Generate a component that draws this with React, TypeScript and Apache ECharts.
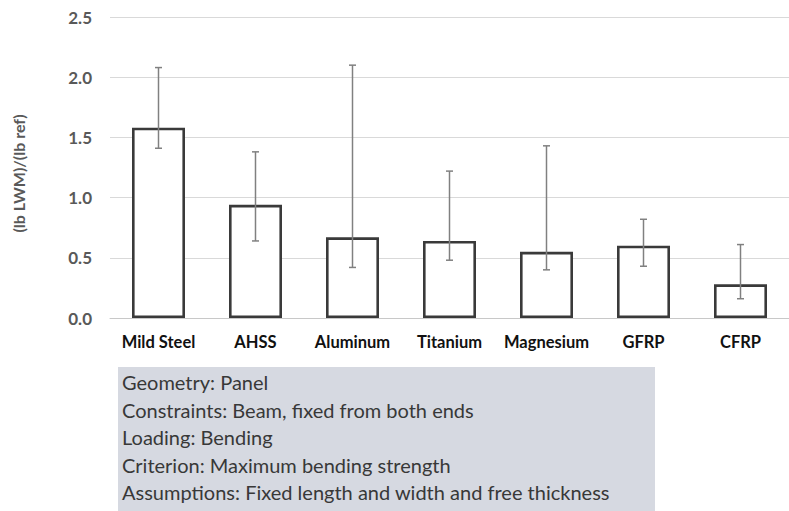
import React, { useEffect, useRef } from "react";
import * as echarts from "echarts";

const categories = ["Mild Steel", "AHSS", "Aluminum", "Titanium", "Magnesium", "GFRP", "CFRP"];
const meanValues = [1.58, 0.94, 0.67, 0.64, 0.55, 0.6, 0.28];
const upperValues = [2.08, 1.38, 2.1, 1.22, 1.43, 0.82, 0.61];
const lowerValues = [1.41, 0.64, 0.42, 0.48, 0.4, 0.43, 0.16];
const yAxisName = "(lb LWM)/(lb ref)";
const noteLines = [
  "Geometry: Panel",
  "Constraints: Beam, fixed from both ends",
  "Loading: Bending",
  "Criterion: Maximum bending strength",
  "Assumptions: Fixed length and width and free thickness",
];

const FONT = "Lato, 'Liberation Sans', sans-serif";

export default function App() {
  const ref = useRef<HTMLDivElement>(null);
  useEffect(() => {
    if (!ref.current) return;
    const chart = echarts.init(ref.current, null, { renderer: "svg" });
    const errData = categories.map((_, i) => [i, upperValues[i], lowerValues[i]]);
    chart.setOption({
      animation: false,
      backgroundColor: "#ffffff",
      grid: { left: 110, top: 17, width: 689, height: 301, containLabel: false },
      xAxis: {
        type: "category",
        data: categories,
        axisTick: { show: false },
        axisLine: { show: true, lineStyle: { color: "#c8c8c8", width: 1 } },
        axisLabel: {
          color: "#111111",
          fontWeight: "bold",
          fontSize: 16.5,
          fontFamily: FONT,
          margin: 15,
          interval: 0,
        },
      },
      yAxis: {
        type: "value",
        min: 0,
        max: 2.5,
        interval: 0.5,
        name: yAxisName,
        nameLocation: "middle",
        nameGap: 84,
        nameRotate: 90,
        nameTextStyle: { color: "#595959", fontWeight: "bold", fontSize: 16, fontFamily: FONT, padding: [0, 12, 0, 0] },
        axisLine: { show: false },
        axisTick: { show: false },
        axisLabel: {
          color: "#595959",
          fontWeight: "bold",
          fontSize: 17,
          fontFamily: FONT,
          margin: 18,
          formatter: (v: number) => v.toFixed(1),
        },
        splitLine: { lineStyle: { color: "#d9d9d9", width: 1 } },
      },
      series: [
        {
          type: "bar",
          data: meanValues,
          barWidth: 53,
          itemStyle: { color: "#ffffff", borderColor: "#3a3a3a", borderWidth: 2.6 },
        },
        {
          type: "custom",
          data: errData,
          encode: { x: 0, y: [1, 2] },
          z: 10,
          renderItem: (params: any, api: any) => {
            const idx = api.value(0);
            const hi = api.coord([idx, api.value(1)]);
            const lo = api.coord([idx, api.value(2)]);
            const half = 3.5;
            const style = { stroke: "#808080", lineWidth: 1.5 };
            return {
              type: "group",
              children: [
                { type: "line", shape: { x1: hi[0], y1: hi[1], x2: lo[0], y2: lo[1] }, style },
                { type: "line", shape: { x1: hi[0] - half, y1: hi[1], x2: hi[0] + half, y2: hi[1] }, style },
                { type: "line", shape: { x1: lo[0] - half, y1: lo[1], x2: lo[0] + half, y2: lo[1] }, style },
              ],
            };
          },
        },
      ],
      graphic: [
        {
          type: "rect",
          shape: { x: 118, y: 367, width: 537, height: 150 },
          style: { fill: "#d6d9e1" },
          silent: true,
        },
        ...noteLines.map((t, i) => ({
          type: "text",
          x: 122,
          y: 382 + i * 27.5,
          style: {
            text: t,
            fill: "#383838",
            fontSize: 20,
            fontFamily: FONT,
            verticalAlign: "middle",
          },
          silent: true,
        })),
      ],
    });
    return () => chart.dispose();
  }, []);
  return (
    <div
      ref={ref}
      style={{ position: "absolute", left: 0, top: 0, width: 789, height: 511 }}
    />
  );
}
